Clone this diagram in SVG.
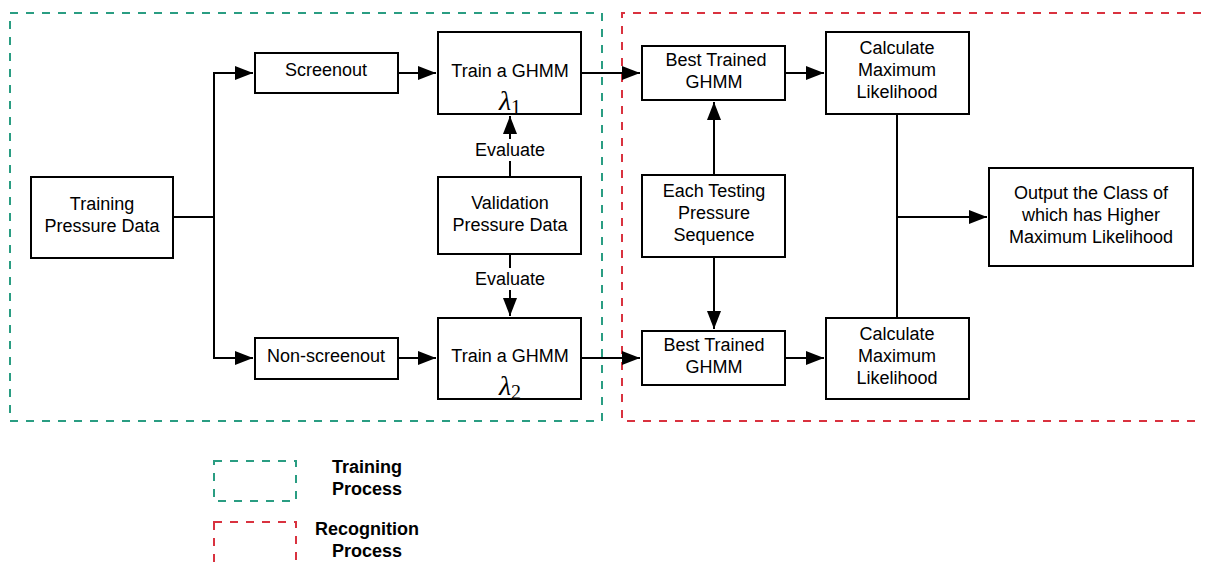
<svg xmlns="http://www.w3.org/2000/svg" width="1206" height="562" viewBox="0 0 1206 562">
<style>
.box{fill:#fff;stroke:#000;stroke-width:2}
.t{font-family:"Liberation Sans",Arial,sans-serif;font-size:18px;fill:#000;text-anchor:middle}
.b{font-weight:bold}
.c{fill:none;stroke:#000;stroke-width:2}
.lam{font-family:"Liberation Serif","Times New Roman",serif;font-style:italic;font-size:28px;fill:#000;text-anchor:middle}
.sub{font-family:"Liberation Serif","Times New Roman",serif;font-size:20px;fill:#000}
.g{fill:none;stroke:#2a9d82;stroke-width:2;stroke-dasharray:8 8}
.r{fill:none;stroke:#d9323f;stroke-width:2;stroke-dasharray:8 8}
</style>
<defs>
<marker id="ah" markerWidth="20" markerHeight="14" refX="18" refY="7" orient="auto" markerUnits="userSpaceOnUse">
<path d="M0,0 L18,7 L0,14 Z" fill="#000"/>
</marker>
</defs>
<rect width="1206" height="562" fill="#fff"/>
<g id="regions">
<rect class="g" x="10" y="13" width="592" height="408"/>
<path class="r" d="M1201,13 H622 V421 H1201"/>
</g>
<g id="connectors">
<path class="c" d="M173,217 H214"/>
<path class="c" d="M214,217 V73 H253" marker-end="url(#ah)"/>
<path class="c" d="M214,217 V358 H253" marker-end="url(#ah)"/>
<path class="c" d="M398,73 H436" marker-end="url(#ah)"/>
<path class="c" d="M398,358 H436" marker-end="url(#ah)"/>
<path class="c" d="M581,73 H640" marker-end="url(#ah)"/>
<path class="c" d="M581,358 H640" marker-end="url(#ah)"/>
<path class="c" d="M510,177 V116" marker-end="url(#ah)"/>
<path class="c" d="M510,254 V316" marker-end="url(#ah)"/>
<path class="c" d="M714,175 V102" marker-end="url(#ah)"/>
<path class="c" d="M714,257 V329" marker-end="url(#ah)"/>
<path class="c" d="M785,73 H824" marker-end="url(#ah)"/>
<path class="c" d="M785,358 H824" marker-end="url(#ah)"/>
<path class="c" d="M897,114 V318"/>
<path class="c" d="M897,217 H987" marker-end="url(#ah)"/>
<rect x="470" y="139" width="80" height="22" fill="#fff"/>
<text class="t" x="510" y="156">Evaluate</text>
<rect x="470" y="268" width="80" height="22" fill="#fff"/>
<text class="t" x="510" y="285">Evaluate</text>
</g>
<g id="training-data">
<rect class="box" x="31" y="177" width="142" height="81"/>
<text class="t" x="102" y="210">Training</text>
<text class="t" x="102" y="232">Pressure Data</text>
</g>
<g id="screenout">
<rect class="box" x="255" y="53" width="143" height="40"/>
<text class="t" x="326" y="76">Screenout</text>
</g>
<g id="non-screenout">
<rect class="box" x="255" y="338" width="143" height="41"/>
<text class="t" x="326" y="362">Non-screenout</text>
</g>
<g id="train1">
<rect class="box" x="438" y="32" width="143" height="82"/>
<text class="t" x="510" y="77">Train a GHMM</text>
<text class="lam" x="505" y="110">λ</text><text class="sub" x="511" y="114">1</text>
</g>
<g id="validation">
<rect class="box" x="438" y="177" width="143" height="77"/>
<text class="t" x="510" y="209">Validation</text>
<text class="t" x="510" y="231">Pressure Data</text>
</g>
<g id="train2">
<rect class="box" x="438" y="318" width="143" height="81"/>
<text class="t" x="510" y="362">Train a GHMM</text>
<text class="lam" x="505" y="395">λ</text><text class="sub" x="511" y="399">2</text>
</g>
<g id="best1">
<rect class="box" x="642" y="46" width="143" height="54"/>
<text class="t" x="716" y="66">Best Trained</text>
<text class="t" x="714" y="88">GHMM</text>
</g>
<g id="testing">
<rect class="box" x="642" y="175" width="143" height="82"/>
<text class="t" x="714" y="197">Each Testing</text>
<text class="t" x="714" y="219">Pressure</text>
<text class="t" x="714" y="241">Sequence</text>
</g>
<g id="best2">
<rect class="box" x="642" y="331" width="143" height="54"/>
<text class="t" x="714" y="351">Best Trained</text>
<text class="t" x="714" y="373">GHMM</text>
</g>
<g id="calc1">
<rect class="box" x="826" y="32" width="143" height="82"/>
<text class="t" x="897" y="54">Calculate</text>
<text class="t" x="897" y="76">Maximum</text>
<text class="t" x="897" y="98">Likelihood</text>
</g>
<g id="calc2">
<rect class="box" x="826" y="318" width="143" height="81"/>
<text class="t" x="897" y="340">Calculate</text>
<text class="t" x="897" y="362">Maximum</text>
<text class="t" x="897" y="384">Likelihood</text>
</g>
<g id="output">
<rect class="box" x="989" y="168" width="204" height="98"/>
<text class="t" x="1091" y="199">Output the Class of</text>
<text class="t" x="1091" y="221">which has Higher</text>
<text class="t" x="1091" y="243">Maximum Likelihood</text>
</g>
<g id="legend">
<rect class="g" x="214" y="461" width="82" height="40"/>
<text class="t b" x="367" y="473">Training</text>
<text class="t b" x="367" y="495">Process</text>
<rect class="r" x="214" y="522" width="82" height="42"/>
<text class="t b" x="367" y="535">Recognition</text>
<text class="t b" x="367" y="557">Process</text>
</g>
</svg>
